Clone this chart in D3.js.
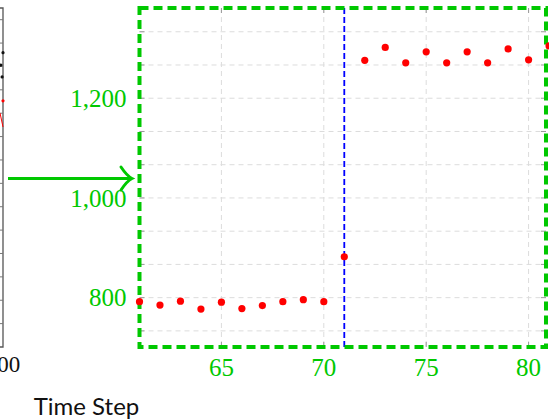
<!DOCTYPE html>
<html>
<head>
<meta charset="utf-8">
<script src="https://cdn.jsdelivr.net/npm/d3@7/dist/d3.min.js"></script>
<style>
  body { margin: 0; background: #fff; }
  svg { display: block; }
</style>
</head>
<body>
<div id="chart"></div>
<script>
// Zoomed window on time steps 61-81
const steps = [61, 62, 63, 64, 65, 66, 67, 68, 69, 70, 71, 72, 73, 74, 75, 76, 77, 78, 79, 80, 81];
const values = [792, 785, 793, 777, 791, 778, 784, 792, 796, 792, 882, 1276, 1302, 1271, 1293, 1271, 1293, 1271, 1299, 1277, 1305];
const xTicks = [65, 70, 75, 80];
const yTicks = [800, 1000, 1200];
const changeStep = 71;

// Tail of the main chart, cut off at the left edge
const mainBlackSteps = [100, 99.3, 99.7];
const mainBlack = [1259, 1206, 1155];
const mainRedSteps = [100];
const mainRed = [1053];
const mainRedLineSteps = [99, 100];
const mainRedLine = [1001, 941];
const mainTicks = [100, 200, 300, 400, 500, 600, 700, 800, 900, 1000, 1100, 1200, 1300, 1400];
const mainXLabel = 100;

const width = 549;
const height = 419;
const green = '#00c800';
const serif = '"Liberation Serif", "DejaVu Serif", serif';

const svg = d3.select('#chart').append('svg')
  .attr('width', width)
  .attr('height', height);

// ---- main chart remnant ----
const mainX = d3.scaleLinear()
  .domain([90, 100])
  .range([-27, 3]);
const mainY = d3.scaleLinear()
  .domain([0, 1450])
  .range([347, 8]);

const main = svg.append('g');

main.append('path')
  .attr('d', `M-10,${mainY(1450)}H${mainX(100)}V${mainY(0)}H-10`)
  .attr('fill', 'none')
  .attr('stroke', '#555')
  .attr('stroke-width', 1.3);

main.selectAll('line.mtick')
  .data(mainTicks)
  .enter().append('line')
  .attr('class', 'mtick')
  .attr('x1', mainX(100) - 4)
  .attr('x2', mainX(100))
  .attr('y1', d => mainY(d))
  .attr('y2', d => mainY(d))
  .attr('stroke', '#777')
  .attr('stroke-width', 1);

main.append('path')
  .datum(mainRedLineSteps.map((t, i) => [t, mainRedLine[i]]))
  .attr('d', d3.line().x(d => mainX(d[0])).y(d => mainY(d[1])))
  .attr('fill', 'none')
  .attr('stroke', 'red')
  .attr('stroke-width', 1);

main.selectAll('circle.mred')
  .data(mainRedSteps)
  .enter().append('circle')
  .attr('class', 'mred')
  .attr('cx', d => mainX(d))
  .attr('cy', (d, i) => mainY(mainRed[i]))
  .attr('r', 1.6)
  .attr('fill', 'red');

main.selectAll('circle.mblack')
  .data(mainBlackSteps)
  .enter().append('circle')
  .attr('class', 'mblack')
  .attr('cx', d => mainX(d))
  .attr('cy', (d, i) => mainY(mainBlack[i]))
  .attr('r', 1.6)
  .attr('fill', '#111');

main.append('text')
  .attr('x', mainX(mainXLabel))
  .attr('y', 372)
  .attr('text-anchor', 'middle')
  .style('font-family', serif)
  .style('font-size', '23px')
  .attr('fill', '#111')
  .text(mainXLabel);

svg.append('text')
  .attr('x', 86.5)
  .attr('y', 415)
  .attr('text-anchor', 'middle')
  .style('font-family', 'Lato, "Open Sans", sans-serif')
  .style('font-size', '24px')
  .attr('fill', '#111')
  .text('Time Step');

// Arrow into the zoom box
svg.append('line')
  .attr('x1', 8)
  .attr('x2', 130)
  .attr('y1', 178.5)
  .attr('y2', 178.5)
  .attr('stroke', green)
  .attr('stroke-width', 3);

svg.append('path')
  .attr('d', 'M121,167 Q127,176 132,178.5 Q127,181 121,190')
  .attr('fill', 'none')
  .attr('stroke', green)
  .attr('stroke-width', 3)
  .attr('stroke-linecap', 'round');

// ---- zoomed inset ----
const box = { left: 139.5, right: 546, top: 8, bottom: 347 };

const x = d3.scaleLinear()
  .domain([61, 80.85])
  .range([box.left, box.right]);
const y = d3.scaleLinear()
  .domain([701, 1381])
  .range([box.bottom, box.top]);

// minor grid every 200/3 between the labelled ticks
const yGrid = d3.range(800 - 200 / 3, 1381, 200 / 3);

const inset = svg.append('g');

inset.selectAll('line.hgrid')
  .data(yGrid)
  .enter().append('line')
  .attr('class', 'hgrid')
  .attr('x1', box.left)
  .attr('x2', box.right)
  .attr('y1', d => y(d))
  .attr('y2', d => y(d))
  .attr('stroke', '#dcdcdc')
  .attr('stroke-width', 1)
  .attr('stroke-dasharray', '5,4');

inset.selectAll('line.vgrid')
  .data(xTicks)
  .enter().append('line')
  .attr('class', 'vgrid')
  .attr('x1', d => x(d))
  .attr('x2', d => x(d))
  .attr('y1', box.top)
  .attr('y2', box.bottom)
  .attr('stroke', '#dcdcdc')
  .attr('stroke-width', 1)
  .attr('stroke-dasharray', '5,4');

// tick marks, pointing inward on all four sides
yGrid.forEach(v => {
  [[box.left, box.left + 5], [box.right - 5, box.right]].forEach(xs => {
    inset.append('line')
      .attr('x1', xs[0])
      .attr('x2', xs[1])
      .attr('y1', y(v))
      .attr('y2', y(v))
      .attr('stroke', '#999')
      .attr('stroke-width', 1);
  });
});
xTicks.forEach(t => {
  [[box.top, box.top + 5], [box.bottom - 5, box.bottom]].forEach(ys => {
    inset.append('line')
      .attr('x1', x(t))
      .attr('x2', x(t))
      .attr('y1', ys[0])
      .attr('y2', ys[1])
      .attr('stroke', '#999')
      .attr('stroke-width', 1);
  });
});

inset.append('line')
  .attr('x1', x(changeStep))
  .attr('x2', x(changeStep))
  .attr('y1', box.top)
  .attr('y2', box.bottom)
  .attr('stroke', '#0000ff')
  .attr('stroke-width', 1.8)
  .attr('stroke-dasharray', '6,3');

inset.append('rect')
  .attr('x', box.left)
  .attr('y', box.top)
  .attr('width', box.right - box.left)
  .attr('height', box.bottom - box.top)
  .attr('fill', 'none')
  .attr('stroke', green)
  .attr('stroke-width', 4)
  .attr('stroke-dasharray', '9,5');

inset.selectAll('circle.pt')
  .data(steps)
  .enter().append('circle')
  .attr('class', 'pt')
  .attr('cx', d => x(d))
  .attr('cy', (d, i) => y(values[i]))
  .attr('r', 3.6)
  .attr('fill', '#ff0000');

inset.selectAll('text.ylab')
  .data(yTicks)
  .enter().append('text')
  .attr('class', 'ylab')
  .attr('x', box.left - 13)
  .attr('y', d => y(d))
  .attr('dy', '0.35em')
  .attr('text-anchor', 'end')
  .style('font-family', serif)
  .style('font-size', '25px')
  .attr('fill', green)
  .text(d3.format(','));

inset.selectAll('text.xlab')
  .data(xTicks)
  .enter().append('text')
  .attr('class', 'xlab')
  .attr('x', d => x(d))
  .attr('y', 376)
  .attr('text-anchor', 'middle')
  .style('font-family', serif)
  .style('font-size', '25px')
  .attr('fill', green)
  .text(d => d);
</script>
</body>
</html>
